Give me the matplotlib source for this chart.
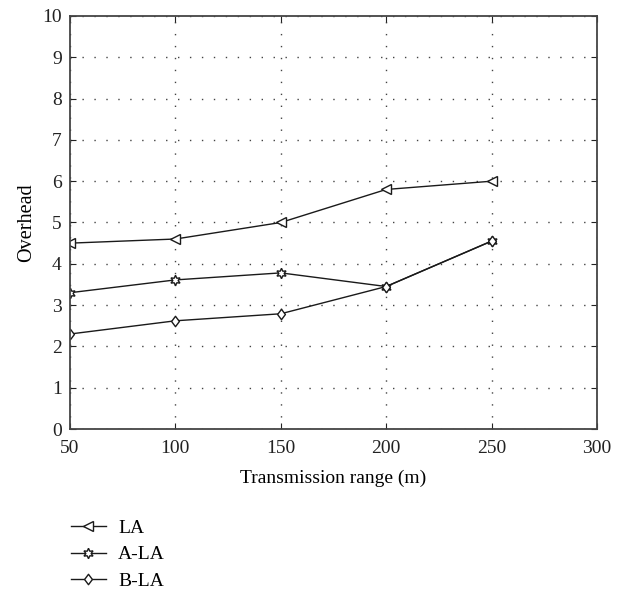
import numpy as np
import matplotlib.pyplot as plt
from matplotlib.path import Path

plt.rcParams['font.family'] = ['Liberation Serif', 'DejaVu Serif']

ranges = [50, 100, 150, 200, 250]
la = [4.5, 4.6, 5.0, 5.8, 6.0]
a_la = [3.3, 3.61, 3.78, 3.45, 4.55]
b_la = [2.3, 2.62, 2.79, 3.45, 4.55]

fig = plt.figure(figsize=(6.24, 5.93), dpi=100)
ax = fig.add_axes([70/624, 1 - 429/593, 527/624, 413/593])

# slightly tall diamond
diamond = Path([(0, 1), (0.75, 0), (0, -1), (-0.75, 0), (0, 1)],
               [Path.MOVETO, Path.LINETO, Path.LINETO, Path.LINETO, Path.CLOSEPOLY])

lc = '#1a1a1a'
common = dict(color=lc, lw=1.0, mfc='white', mec=lc, mew=1.0)
ax.plot(ranges, la, marker='<', ms=7, label='LA', **common)
ax.plot(ranges, a_la, marker=(6, 1, 0), ms=7.5, label='A-LA', **common)
ax.plot(ranges, b_la, marker=diamond, ms=7.5, label='B-LA', **common)

ax.set_xlim(50, 300)
ax.set_ylim(0, 10)
ax.set_xticks(np.arange(50, 301, 50))
ax.set_yticks(np.arange(0, 11, 1))
ax.grid(True, linestyle=(0, (1, 7.6)), color='#444444', lw=1.0)
ax.tick_params(direction='in', length=4, labelsize=14, colors='#222222',
               top=True, right=True, pad=6)
ax.tick_params(axis='x', pad=8)
for s in ax.spines.values():
    s.set_color('#444444')
    s.set_linewidth(1.3)

ax.set_xlabel('Transmission range (m)', fontsize=14, labelpad=9)
ax.set_ylabel('Overhead', fontsize=14.5, labelpad=4)

fig.legend(loc='upper left', bbox_to_anchor=(53/624, 1 - 502/593), frameon=False,
           fontsize=14, handlelength=1.8, labelspacing=0.45, handletextpad=0.65)

plt.savefig('out.png', dpi=100)
